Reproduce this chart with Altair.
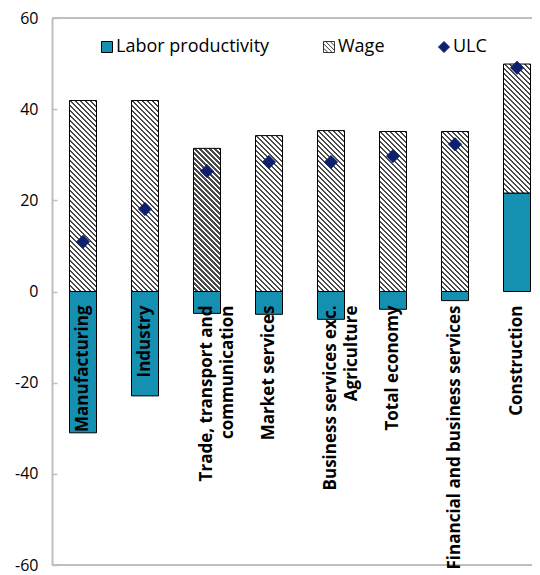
import altair as alt
import pandas as pd

# ---------------- data ----------------
categories = ["Manufacturing", "Industry", "Trade, transport and communication",
              "Market services", "Business services exc. Agriculture",
              "Total economy", "Financial and business services", "Construction"]
label_lines = [["Manufacturing"], ["Industry"], ["Trade, transport and", "communication"],
               ["Market services"], ["Business services exc.", "Agriculture"],
               ["Total economy"], ["Financial and business services"], ["Construction"]]
labor_productivity = [-31.0, -22.9, -4.8, -5.0, -6.1, -3.9, -2.0, 21.6]
wage = [41.9, 41.9, 31.4, 34.2, 35.3, 35.1, 35.1, 28.3]
ulc = [10.9, 18.1, 26.4, 28.4, 28.4, 29.7, 32.3, 49.1]
series = ["Labor productivity", "Wage", "ULC"]
y_domain = [-60, 60]
y_ticks = [-60, -40, -20, 0, 20, 40, 60]

# ---------------- style ----------------
W, H = 496, 547
PAD_L, PAD_T, PAD_B = 44, 10, 10
BAR_W = 27
TEAL = "#1690b0"
NAVY = "#0d1f6d"
GRAY = "#bfbfbf"
FONT = "Open Sans"
NBSP = "\u00a0"
pad_short = {2: 5, 4: 10}   # centring of the shorter second line

def hatch_gradient(w, h, period=5.0, frac=0.45, dark="#4a4a4a", light="#ffffff"):
    s = (w + h) / (w * w + h * h)
    n = (w + h) / period
    stops = []
    k = 0
    while k < n:
        a = k / n
        b = min((k + frac) / n, 1.0)
        e = min((k + 1) / n, 1.0)
        stops += [(a, dark), (b, dark), (b, light), (e, light)]
        k += 1
    return alt.LinearGradient(
        gradient="linear",
        stops=[alt.GradientStop(offset=o, color=c) for o, c in stops],
        x1=1, y1=0, x2=1 - s * w, y2=s * h)

labels = []
for i, lines in enumerate(label_lines):
    if len(lines) == 2:
        lines = [lines[0], lines[1] + NBSP * pad_short.get(i, 0)]
    labels.append("\n".join(lines))

w_lo = [max(p, 0) for p in labor_productivity]
w_hi = [lo + w for lo, w in zip(w_lo, wage)]
df = pd.DataFrame({"cat": categories, "prod": labor_productivity, "zero": [0] * len(categories),
                   "w_lo": w_lo, "w_hi": w_hi, "ulc": ulc, "label": labels,
                   "s": ["ULC"] * len(categories)})
frame_df = pd.DataFrame({"v": y_domain})

xscale = alt.Scale(domain=categories, paddingInner=0, paddingOuter=0)
yscale = alt.Scale(domain=y_domain, nice=False, zero=False)

x_noaxis = alt.X("cat:N", scale=xscale, sort=categories, axis=None)
base = alt.Chart(df)

# productivity bars (with the zero-line axis)
prod_bars = base.mark_bar(fill=TEAL, stroke="black", strokeWidth=1, size=BAR_W).encode(
    x=alt.X("cat:N", scale=xscale, sort=categories,
            axis=alt.Axis(orient="top", offset=-(H / 2), labels=False, title=None,
                          domainColor=GRAY, domainWidth=2, tickColor=GRAY, tickSize=5,
                          tickWidth=1.5, bandPosition=0, grid=False, zindex=1)),
    y=alt.Y("zero:Q", scale=yscale,
            axis=alt.Axis(orient="left", values=y_ticks, grid=False, ticks=False,
                          domainColor=GRAY, domainWidth=2, labelFontSize=16,
                          labelFont=FONT, labelColor="black", labelPadding=14,
                          labelExpr="'' + datum.value", title=None, zindex=1)),
    y2="prod:Q",
)

# inner tick marks of the value axis
inner_ticks = alt.Chart(frame_df).mark_rule(opacity=0).encode(
    y=alt.Y("v:Q", scale=yscale,
            axis=alt.Axis(orient="right", offset=-W, values=y_ticks, grid=False,
                          labels=False, domain=False, tickColor=GRAY, tickSize=5,
                          tickWidth=1.5, title=None)),
)

frame = alt.Chart(frame_df).mark_rule(color=GRAY, strokeWidth=2).encode(
    y=alt.Y("v:Q", scale=yscale, axis=None))

wage_layers = []
for i, c in enumerate(categories):
    h = wage[i] * H / (y_domain[1] - y_domain[0])
    wage_layers.append(
        base.transform_filter(alt.FieldEqualPredicate(field="cat", equal=c))
        .mark_bar(fill=hatch_gradient(BAR_W, h), stroke="black", strokeWidth=1, size=BAR_W)
        .encode(x=x_noaxis, y=alt.Y("w_lo:Q", scale=yscale, axis=None), y2="w_hi:Q")
    )

hatch_path = ("M-1,-1H1V1H-1Z M-1,0.2L-0.2,1 M-1,-0.6L0.6,1 M-0.6,-1L1,0.6 M0.2,-1L1,-0.2")
leg = alt.Legend(title=None, orient="none", legendX=46, legendY=20, direction="horizontal",
                 labelFont=FONT, labelFontSize=18, labelColor="black", labelOffset=0,
                 columnPadding=50, symbolSize=121, symbolStrokeWidth=1,
                 symbolOpacity=1, padding=0)
points = base.mark_point(filled=True, size=180, opacity=1, strokeWidth=0.6).encode(
    x=x_noaxis,
    y=alt.Y("ulc:Q", scale=yscale, axis=None),
    color=alt.Color("s:N", scale=alt.Scale(domain=series, range=[TEAL, "#ffffff", NAVY]), legend=leg),
    stroke=alt.Stroke("s:N", scale=alt.Scale(domain=series, range=["#000000", "#333333", NAVY]), legend=leg),
    shape=alt.Shape("s:N", scale=alt.Scale(domain=series, range=["square", hatch_path, "diamond"]), legend=leg),
)

texts = base.mark_text(angle=270, align="right", baseline="middle", dx=-14, lineBreak="\n",
                       font=FONT, fontSize=17, fontWeight="bold", color="black",
                       lineHeight=21).encode(
    x=x_noaxis,
    y=alt.Y("zero:Q", scale=yscale, axis=None),
    text="label:N",
)

chart = alt.layer(frame, inner_ticks, prod_bars, *wage_layers, points, texts).resolve_axis(
    y="independent"
).properties(
    width=W, height=H, autosize="none",
    padding={"left": PAD_L, "top": PAD_T, "right": 524 - PAD_L - W, "bottom": PAD_B},
).configure_view(stroke=None)

chart.save("out.html", embed_options={"renderer": "svg", "actions": False})
